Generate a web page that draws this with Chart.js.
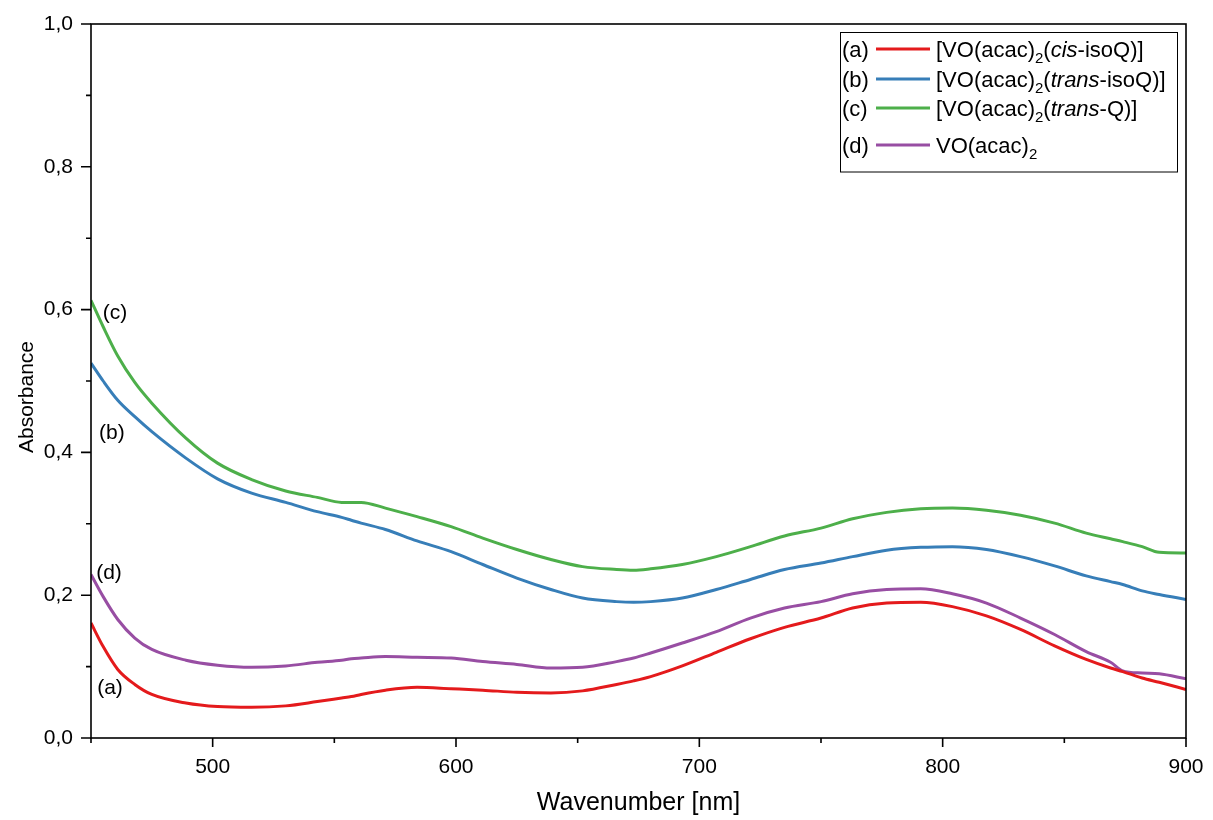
<!DOCTYPE html>
<html><head><meta charset="utf-8">
<script src="https://cdn.jsdelivr.net/npm/chart.js@4/dist/chart.umd.min.js"></script>
<style>html,body{margin:0;padding:0;background:#fff}</style>
</head><body>
<canvas id="c" width="1213" height="820"></canvas>
<script>
// ---- data ----
const wavelength = [450,455,461,468,475,489,502,516,530,543,553,557,561,571,584,598,611,625,639,652,666,673,680,693,707,721,735,750,763,777,791,804,818,832,846,859,869,874,882,889,900];
const absCisIsoQ = [0.161,0.128,0.096,0.075,0.061,0.049,0.044,0.043,0.045,0.051,0.056,0.058,0.061,0.067,0.071,0.069,0.067,0.064,0.063,0.066,0.075,0.080,0.086,0.101,0.120,0.139,0.155,0.168,0.182,0.189,0.190,0.184,0.171,0.152,0.129,0.110,0.098,0.093,0.084,0.078,0.068];
const absTransIsoQ = [0.525,0.500,0.473,0.450,0.429,0.392,0.363,0.343,0.330,0.317,0.309,0.305,0.301,0.292,0.276,0.261,0.243,0.224,0.208,0.196,0.191,0.190,0.191,0.196,0.208,0.222,0.236,0.245,0.254,0.263,0.267,0.268,0.264,0.254,0.241,0.227,0.219,0.215,0.206,0.201,0.194];
const absTransQ = [0.613,0.576,0.535,0.498,0.469,0.420,0.385,0.362,0.346,0.337,0.330,0.330,0.330,0.322,0.310,0.296,0.280,0.264,0.250,0.240,0.236,0.235,0.237,0.243,0.254,0.268,0.283,0.294,0.307,0.316,0.321,0.322,0.319,0.312,0.301,0.287,0.279,0.275,0.268,0.260,0.259];
const absVOacac = [0.229,0.198,0.166,0.140,0.124,0.109,0.102,0.099,0.101,0.106,0.109,0.111,0.112,0.114,0.113,0.112,0.107,0.103,0.098,0.099,0.107,0.112,0.119,0.133,0.149,0.168,0.182,0.191,0.202,0.208,0.209,0.202,0.189,0.168,0.145,0.121,0.106,0.094,0.091,0.090,0.083];

const curveTags = ['(a)','(b)','(c)','(d)'];
const tagAnchors = [[457.8,0.070],[458.6,0.427],[459.9,0.595],[457.4,0.231]]; // data coords of the (a)-(d) labels
const xMajorTicks = [500,600,700,800,900];
const xMinorTicks = [450,550,650,750,850];
const yMajorTicks = [0,0.2,0.4,0.6,0.8,1.0];
const yMinorTicks = [0.1,0.3,0.5,0.7,0.9];
const xTitle = 'Wavenumber [nm]';
const yTitle = 'Absorbance';
// legend labels as rich-text segments
const legendLabels = [
  [{t:'[VO(acac)'},{t:'2',sub:1},{t:'('},{t:'cis',it:1},{t:'-isoQ)]'}],
  [{t:'[VO(acac)'},{t:'2',sub:1},{t:'('},{t:'trans',it:1},{t:'-isoQ)]'}],
  [{t:'[VO(acac)'},{t:'2',sub:1},{t:'('},{t:'trans',it:1},{t:'-Q)]'}],
  [{t:'VO(acac)'},{t:'2',sub:1}]
];
const colors = ['#e41a1c','#377eb8','#4daf4a','#984ea3'];
const seriesList = [absCisIsoQ, absTransIsoQ, absTransQ, absVOacac];

const FONT = '"Liberation Sans", Arial, sans-serif';

const datasets = seriesList.map((s,k)=>({
  label: curveTags[k],
  data: wavelength.map((w,i)=>({x:w, y:s[i]})),
  borderColor: colors[k],
  borderWidth: 3,
  pointRadius: 0,
  pointHoverRadius: 0,
  fill: false,
  cubicInterpolationMode: 'monotone'
}));

const decor = {
  id: 'decor',
  afterDraw(chart) {
    const ctx = chart.ctx, xs = chart.scales.x, ys = chart.scales.y;
    const a = chart.chartArea;
    ctx.save();
    ctx.strokeStyle = '#000';
    ctx.lineWidth = 1.6;
    ctx.strokeRect(a.left, a.top, a.right - a.left, a.bottom - a.top);
    ctx.beginPath();
    xMajorTicks.forEach(v=>{const p=xs.getPixelForValue(v); ctx.moveTo(p,a.bottom); ctx.lineTo(p,a.bottom+9);});
    xMinorTicks.forEach(v=>{const p=xs.getPixelForValue(v); ctx.moveTo(p,a.bottom); ctx.lineTo(p,a.bottom+5);});
    yMajorTicks.forEach(v=>{const p=ys.getPixelForValue(v); ctx.moveTo(a.left,p); ctx.lineTo(a.left-10,p);});
    yMinorTicks.forEach(v=>{const p=ys.getPixelForValue(v); ctx.moveTo(a.left,p); ctx.lineTo(a.left-5,p);});
    ctx.stroke();

    // axis titles
    ctx.fillStyle = '#000';
    ctx.textAlign = 'center';
    ctx.textBaseline = 'middle';
    ctx.font = '25px ' + FONT;
    ctx.fillText(xTitle, (a.left + a.right) / 2, 803);
    ctx.save();
    ctx.translate(27, 397);
    ctx.rotate(-Math.PI / 2);
    ctx.font = '21px ' + FONT;
    ctx.fillText(yTitle, 0, 0);
    ctx.restore();

    // curve tags
    ctx.font = '21px ' + FONT;
    tagAnchors.forEach((t,k)=>{
      ctx.fillText(curveTags[k], xs.getPixelForValue(t[0]), ys.getPixelForValue(t[1]));
    });

    // legend box
    const bx = 840.5, by = 32.5, bw = 337, bh = 139.5;
    ctx.lineWidth = 1;
    ctx.strokeStyle = '#000';
    ctx.strokeRect(bx, by, bw, bh);
    const rowY = [51, 81, 110, 147];
    ctx.textAlign = 'left';
    legendLabels.forEach((segs,k)=>{
      const y = rowY[k];
      ctx.font = '22px ' + FONT;
      ctx.fillStyle = '#000';
      ctx.fillText(curveTags[k], 842, y);
      ctx.strokeStyle = colors[k];
      ctx.lineWidth = 3;
      ctx.beginPath(); ctx.moveTo(876, y-2); ctx.lineTo(930, y-2); ctx.stroke();
      let x = 936;
      segs.forEach(s=>{
        if (s.sub) { ctx.font = '15px ' + FONT; ctx.fillText(s.t, x, y+8); }
        else if (s.it) { ctx.font = 'italic 22px ' + FONT; ctx.fillText(s.t, x, y); }
        else { ctx.font = '22px ' + FONT; ctx.fillText(s.t, x, y); }
        x += ctx.measureText(s.t).width;
      });
    });
    ctx.restore();
  }
};

new Chart(document.getElementById('c'), {
  type: 'line',
  data: { datasets },
  options: {
    responsive: false,
    animation: false,
    devicePixelRatio: 1,
    layout: { autoPadding: false, padding: { top: 24, right: 27, left: 0, bottom: 0 } },
    plugins: { legend: { display: false }, tooltip: { enabled: false } },
    scales: {
      x: {
        type: 'linear', min: 450, max: 900,
        afterBuildTicks: s => { s.ticks = xMajorTicks.map(v=>({value:v})); },
        afterFit: s => { s.height = 82; s.paddingLeft = 0; s.paddingRight = 0; },
        grid: { display: false, drawTicks: false }, border: { display: false },
        ticks: { color: '#000', font: { family: FONT, size: 21 }, padding: 17, maxRotation: 0 }
      },
      y: {
        type: 'linear', min: 0, max: 1,
        afterBuildTicks: s => { s.ticks = yMajorTicks.map(v=>({value:v})); },
        afterFit: s => { s.width = 91; s.paddingTop = 0; s.paddingBottom = 0; },
        grid: { display: false, drawTicks: false }, border: { display: false },
        ticks: { color: '#000', font: { family: FONT, size: 21 }, padding: 18,
                 callback: v => v.toFixed(1).replace('.', ',') }
      }
    }
  },
  plugins: [decor]
});
</script>
</body></html>
